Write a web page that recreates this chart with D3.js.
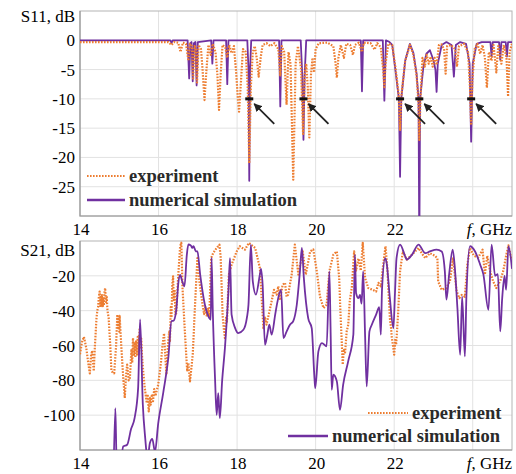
<!DOCTYPE html>
<html>
<head>
<meta charset="utf-8">
<script src="https://cdn.jsdelivr.net/npm/d3@7"></script>
<style>
  body { margin: 0; background: #fff; }
  svg { display: block; }
</style>
</head>
<body>
<div id="chart"></div>
<script>
// frequency axis (GHz)
const xTicks = [14, 16, 18, 20, 22];
const xGrid = [16, 18, 20, 22, 24];
const s11Ticks = [0, -5, -10, -15, -20, -25];
const s21Ticks = [-20, -40, -60, -80, -100];

// S11, dB : [f, dB]
const s11Simulation = [[14,0],[16.3,0],[16.33,-0.5],[16.36,0],[16.74,0],[16.78,-6.5],[16.81,-0.5],[16.84,-0.3],[16.87,-7],[16.9,-0.5],[16.94,-0.3],[16.97,-7.7],[17.0,-0.3],[17.34,0],[17.37,-4],[17.4,0],[17.72,0],[17.75,-7.5],[17.78,0],[18.26,0],[18.29,-5],[18.31,-24],[18.33,-5],[18.36,0],[19.07,0],[19.1,-11.3],[19.13,0],[19.62,0],[19.66,-6],[19.69,-17],[19.72,-6],[19.76,0],[21.15,0],[21.18,-8.7],[21.21,0],[21.71,0],[21.75,-10.3],[21.79,0],[21.88,-0.3],[21.95,-0.8],[22.03,-5],[22.12,-10],[22.15,-23.3],[22.18,-10],[22.28,-3.5],[22.4,-0.6],[22.49,-2.2],[22.57,-5.7],[22.62,-10],[22.64,-36],[22.66,-10],[22.74,-4.7],[22.82,-2.3],[22.91,-1.7],[23.0,-3.4],[23.05,-5],[23.08,-8.8],[23.11,-4],[23.21,-0.8],[23.33,-0.3],[23.46,-0.8],[23.52,-6.2],[23.57,-0.8],[23.68,-0.3],[23.83,-0.6],[23.92,-4],[23.96,-17.3],[24.0,-4],[24.1,-0.6],[24.23,-0.3],[24.45,-0.3],[24.48,-2.8],[24.51,-0.3],[24.67,-0.3],[24.7,-3.3],[24.73,-0.3],[24.84,-0.3],[24.87,-2.8],[24.9,-0.3],[25,-0.3]];

const s11Experiment = [[14,-0.3],[16.25,-0.3],[16.33,-0.8],[16.4,-0.3],[16.5,-0.4],[16.56,-2],[16.62,-0.4],[16.7,-0.6],[16.76,-3.5],[16.8,-0.6],[16.85,-1],[16.88,-6.5],[16.92,-1],[16.95,-1.5],[16.98,-7.2],[17.02,-0.8],[17.08,-1.5],[17.12,-5],[17.17,-10.2],[17.22,-5],[17.27,-0.8],[17.33,-2.5],[17.38,-0.6],[17.45,-2],[17.5,-6],[17.54,-11.9],[17.58,-6],[17.63,-0.8],[17.7,-1.2],[17.75,-3],[17.8,-0.8],[17.86,-2.2],[17.92,-1],[17.97,-5],[18.02,-10],[18.05,-12.2],[18.09,-8],[18.15,-1.5],[18.22,-2],[18.27,-8],[18.31,-21],[18.35,-8],[18.4,-2],[18.45,-1],[18.5,-3],[18.55,-6.2],[18.6,-3],[18.65,-0.8],[18.75,-0.5],[18.85,-1],[18.95,-0.5],[19.05,-1.5],[19.1,-6],[19.14,-1],[19.2,-2],[19.26,-11],[19.31,-2],[19.36,-4],[19.43,-23.8],[19.49,-4],[19.55,-1],[19.63,-5],[19.68,-16],[19.72,-6],[19.76,-4],[19.8,-8],[19.84,-16.6],[19.88,-6],[19.92,-3],[19.96,-5.5],[20.0,-1.5],[20.08,-0.5],[20.3,-0.4],[20.45,-1],[20.5,-3.5],[20.54,-6.4],[20.58,-3],[20.64,-0.8],[20.72,-3],[20.78,-0.6],[20.88,-0.8],[20.95,-2.5],[21.0,-0.8],[21.1,-0.4],[21.18,-2],[21.23,-0.4],[21.4,-0.5],[21.5,-1.6],[21.57,-0.5],[21.66,-1.2],[21.72,-5],[21.75,-8],[21.78,-4],[21.85,-0.6],[21.95,-0.8],[22.03,-4.5],[22.11,-9],[22.15,-15.3],[22.19,-9],[22.28,-3.5],[22.4,-0.8],[22.49,-2.5],[22.57,-6],[22.62,-11],[22.64,-17],[22.67,-10],[22.72,-3],[22.78,-4.5],[22.83,-2.5],[22.88,-4],[22.93,-2.8],[22.98,-4.5],[23.03,-3],[23.08,-4.2],[23.14,-0.8],[23.2,-0.7],[23.27,-1.5],[23.31,-5.7],[23.35,-1],[23.45,-0.8],[23.55,-1.5],[23.6,-4.5],[23.65,-1],[23.78,-0.6],[23.88,-2],[23.93,-8],[23.96,-14.5],[23.99,-7],[24.05,-1.5],[24.12,-0.6],[24.19,-2.3],[24.25,-0.8],[24.31,-3],[24.36,-8.1],[24.41,-2],[24.48,-3.5],[24.53,-0.8],[24.6,-5.5],[24.65,-1],[24.73,-4],[24.79,-0.8],[24.86,-3],[24.9,-9.6],[24.94,-2],[25,-0.6]];

// S21, dB : [f, dB]
const s21Simulation = [[14.85,-140],[14.9,-96],[14.93,-125],[15.0,-135],[15.1,-118],[15.2,-117],[15.3,-108],[15.39,-101.7],[15.48,-84.5],[15.53,-45],[15.6,-94],[15.66,-113],[15.72,-125],[15.78,-116],[15.84,-113.6],[15.91,-121],[15.99,-105],[16.12,-87],[16.25,-66.8],[16.33,-46],[16.38,-45.8],[16.45,-40],[16.5,-25],[16.55,-19.5],[16.6,-23],[16.66,-26],[16.72,-8],[16.76,-2],[16.82,-2.5],[16.86,-4],[16.89,-3],[16.95,-5.9],[16.99,-6],[17.06,-19.3],[17.18,-36.6],[17.27,-43.3],[17.33,-45.2],[17.35,-9.6],[17.38,-39],[17.44,-80],[17.48,-99.8],[17.52,-87.4],[17.56,-101.7],[17.62,-80],[17.69,-61.5],[17.78,-28.9],[17.82,-9.8],[17.86,-42.3],[17.95,-50],[18.03,-52.9],[18.16,-51],[18.25,-44],[18.29,-36.6],[18.35,-2.1],[18.4,-23.2],[18.48,-30.8],[18.58,-19.3],[18.61,-16],[18.65,-25],[18.71,-59.6],[18.77,-53.8],[18.82,-48],[18.88,-53.8],[18.97,-42.3],[19.01,-37],[19.12,-28],[19.18,-55.7],[19.26,-52],[19.35,-48],[19.43,-46],[19.52,-36.6],[19.6,-17.4],[19.65,-4],[19.7,-21.3],[19.81,-44.3],[19.9,-50],[19.97,-78.7],[19.99,-84.5],[20.07,-63.4],[20.16,-58.6],[20.28,-60.5],[20.35,-17.4],[20.38,-50],[20.41,-85.4],[20.45,-76.8],[20.54,-80.6],[20.62,-97],[20.7,-82.6],[20.83,-69],[20.96,-53.8],[21.0,-7.9],[21.03,-30],[21.09,-32.8],[21.13,-31],[21.17,-36],[21.21,-17.4],[21.26,-55],[21.3,-83.5],[21.37,-51.9],[21.43,-48.1],[21.54,-42.3],[21.62,-38],[21.66,-53.8],[21.69,-28],[21.77,-9.8],[21.81,-13],[21.89,-32.8],[21.98,-50],[22.02,-30],[22.06,-9.8],[22.15,-2.1],[22.28,-8.8],[22.32,-10.7],[22.45,-8],[22.62,-2.1],[22.79,-7],[22.91,-6],[23.08,-5],[23.21,-6],[23.29,-17.4],[23.33,-33.7],[23.4,-19],[23.49,-5],[23.55,-17],[23.61,-38.5],[23.68,-65.3],[23.73,-32],[23.8,-66.3],[23.84,-31],[23.93,-3],[24.06,-6],[24.19,-13.6],[24.27,-19],[24.4,-39.5],[24.48,-2.1],[24.57,-20],[24.64,-19],[24.7,-51.9],[24.75,-33],[24.81,-20],[24.85,-28],[24.91,-3],[25,-16]];

const s21Experiment = [[14.0,-65],[14.05,-58],[14.1,-55],[14.16,-61.5],[14.21,-70],[14.25,-76],[14.28,-66],[14.31,-63],[14.35,-74.7],[14.38,-60],[14.42,-44.3],[14.44,-40],[14.46,-38],[14.48,-32],[14.5,-29],[14.52,-38],[14.53,-32],[14.55,-37],[14.56,-31],[14.58,-38],[14.59,-33],[14.61,-37],[14.62,-30],[14.64,-27],[14.66,-35],[14.68,-32],[14.7,-40],[14.73,-44.3],[14.77,-60],[14.8,-74.7],[14.87,-76],[14.92,-60],[14.95,-42.3],[14.97,-50],[14.98,-44],[15.0,-52],[15.01,-43],[15.05,-59.6],[15.1,-78],[15.14,-90.2],[15.17,-78],[15.2,-71],[15.24,-80],[15.27,-78.5],[15.31,-62],[15.33,-70],[15.35,-55.7],[15.37,-66],[15.39,-58],[15.41,-67],[15.43,-57],[15.45,-66],[15.47,-55],[15.49,-65],[15.5,-58],[15.52,-50],[15.54,-62],[15.56,-56],[15.58,-66],[15.61,-75],[15.65,-84.5],[15.7,-93],[15.72,-88],[15.75,-97.9],[15.78,-90],[15.8,-94],[15.83,-88],[15.86,-92],[15.89,-85],[15.92,-89],[15.99,-82.6],[16.06,-70],[16.1,-60],[16.14,-53],[16.17,-65],[16.2,-76.8],[16.24,-60],[16.27,-52],[16.29,-58],[16.31,-38],[16.33,-44],[16.35,-25],[16.37,-20.3],[16.39,-34],[16.41,-28],[16.43,-42],[16.45,-41.4],[16.5,-20],[16.55,-3],[16.58,-1],[16.61,-27],[16.67,-51.9],[16.73,-74.9],[16.76,-70],[16.8,-80.6],[16.84,-72],[16.87,-65.3],[16.93,-36.6],[16.99,-9.8],[17.04,-23.2],[17.12,-36.6],[17.16,-42],[17.19,-38],[17.23,-43.3],[17.26,-39],[17.29,-44],[17.34,-9.8],[17.39,-7],[17.48,-4],[17.55,-2.1],[17.58,-9],[17.63,-42.3],[17.66,-50],[17.69,-55.7],[17.72,-44],[17.74,-47],[17.79,-19.3],[17.86,-13.6],[17.99,-6],[18.07,-3],[18.2,-5],[18.3,-1.1],[18.46,-4],[18.58,-15.5],[18.67,-50],[18.71,-44],[18.75,-48],[18.86,-36.6],[18.94,-28],[19.01,-30.8],[19.05,-26],[19.09,-34],[19.16,-25.1],[19.22,-24],[19.26,-32],[19.3,-30.8],[19.39,-19.3],[19.47,-2.1],[19.56,-19.3],[19.67,-6],[19.75,-19.3],[19.86,-6],[19.94,-4.8],[20.03,-17.4],[20.11,-31.8],[20.2,-38.5],[20.28,-36.6],[20.35,-17.4],[20.45,-7.9],[20.54,-6],[20.6,-21.3],[20.63,-40],[20.66,-55.7],[20.69,-71],[20.72,-62],[20.75,-64],[20.79,-52],[20.83,-48.1],[20.87,-34],[20.92,-27],[20.98,-6],[21.03,-17],[21.09,-10],[21.15,-17],[21.2,-1.1],[21.26,-21.3],[21.34,-27],[21.45,-28],[21.54,-29],[21.6,-24],[21.66,-26],[21.72,-13.6],[21.78,-3],[21.83,-17],[21.89,-44.3],[21.92,-50],[21.94,-55.7],[21.97,-60],[22.0,-65.3],[22.03,-56],[22.05,-59.6],[22.1,-42],[22.15,-17.4],[22.22,-6],[22.32,-10.7],[22.49,-7],[22.62,-4],[22.7,-7],[22.79,-9.8],[22.91,-7],[23.04,-8.5],[23.1,-10],[23.12,-23.2],[23.21,-28],[23.33,-27],[23.42,-23],[23.5,-10],[23.59,-28.9],[23.66,-32.8],[23.72,-31],[23.8,-32],[23.86,-14],[23.93,-4],[24.03,-8.5],[24.14,-9.5],[24.25,-5],[24.31,-19.3],[24.37,-8.5],[24.44,-17],[24.52,-23.2],[24.6,-27],[24.7,-23],[24.78,-17],[24.85,-8.5],[24.91,-2.5],[24.98,-10]];

// resonances marked at -10 dB in S11
const markerFreqs = [18.31, 19.69, 22.15, 22.64, 23.96];

const orange = '#ED7D31', purple = '#7030A0';
const serif = "'Liberation Serif'";

let width = 516, height = 474;

let svg = d3.select('#chart')
    .append('svg')
    .attr('width', width)
    .attr('height', height)
    .style('font-family', serif);

svg.append('defs').append('marker')
    .attr('id', 'arrow')
    .attr('viewBox', '0 0 10 10')
    .attr('refX', 9).attr('refY', 5)
    .attr('markerWidth', 4.5).attr('markerHeight', 4.5)
    .attr('orient', 'auto-start-reverse')
    .append('path')
    .attr('d', 'M0,0 L10,5 L0,10 z')
    .attr('fill', '#222');

const x = d3.scaleLinear().domain([14, 25]).range([80, 512]);

function drawPanel(p) {
    const y = d3.scaleLinear().domain(p.domain).range([p.bottom, p.top]);
    const g = svg.append('g');
    const [x0, x1] = x.range();

    g.append('clipPath').attr('id', 'clip-' + p.id)
        .append('rect')
        .attr('x', x0).attr('y', p.top)
        .attr('width', x1 - x0).attr('height', p.bottom - p.top);

    // grid
    g.selectAll('.vgrid').data(xGrid).join('line')
        .attr('x1', d => x(d)).attr('x2', d => x(d))
        .attr('y1', p.top).attr('y2', p.bottom)
        .attr('stroke', '#e2e2e2').attr('stroke-width', 1);
    g.selectAll('.hgrid').data(p.ticks).join('line')
        .attr('x1', x0).attr('x2', x1)
        .attr('y1', d => y(d)).attr('y2', d => y(d))
        .attr('stroke', '#e2e2e2').attr('stroke-width', 1);

    // frame
    g.append('rect')
        .attr('x', x0).attr('y', p.top)
        .attr('width', x1 - x0).attr('height', p.bottom - p.top)
        .attr('fill', 'none').attr('stroke', '#b4b4b4').attr('stroke-width', 1);
    g.append('path')
        .attr('d', `M${x0},${p.top}V${p.bottom}H${x1}`)
        .attr('fill', 'none').attr('stroke', '#9a9a9a').attr('stroke-width', 1.2);

    const expLine = d3.line().x(d => x(d[0])).y(d => y(d[1]));
    const simLine = d3.line().x(d => x(d[0])).y(d => y(d[1])).curve(p.simCurve);
    const curves = g.append('g').attr('clip-path', `url(#clip-${p.id})`);

    const drawExp = () => curves.append('path')
        .attr('d', expLine(p.exp))
        .attr('fill', 'none').attr('stroke', orange)
        .attr('stroke-width', 2.2).attr('stroke-dasharray', '1.6,1.4')
        .attr('stroke-linejoin', 'round');
    const drawSim = () => curves.append('path')
        .attr('d', simLine(p.sim))
        .attr('fill', 'none').attr('stroke', purple)
        .attr('stroke-width', 1.8).attr('stroke-linejoin', 'round');
    if (p.expOnTop) { drawSim(); drawExp(); } else { drawExp(); drawSim(); }

    // y tick labels
    g.selectAll('.ylab').data(p.ticks).join('text')
        .style('font-family', serif)
        .attr('x', 75).attr('y', d => y(d) + 6)
        .attr('text-anchor', 'end')
        .attr('font-size', 17)
        .text(d => d);
    g.append('text')
        .style('font-family', serif)
        .attr('x', 75).attr('y', p.labelY)
        .attr('text-anchor', 'end').attr('font-size', 17)
        .text(p.label);

    // x tick labels
    g.selectAll('.xlab').data(xTicks).join('text')
        .style('font-family', serif)
        .attr('x', d => x(d) + 1).attr('y', p.bottom + 19)
        .attr('text-anchor', 'middle').attr('font-size', 17)
        .text(d => d);
    const ft = g.append('text')
        .style('font-family', serif)
        .attr('x', 512).attr('y', p.bottom + 19)
        .attr('text-anchor', 'end').attr('font-size', 17);
    ft.append('tspan').attr('font-style', 'italic').text('f');
    ft.append('tspan').text(', GHz');

    // legend
    p.legend.forEach(l => {
        g.append('line')
            .attr('x1', l.x1).attr('x2', l.x2).attr('y1', l.y).attr('y2', l.y)
            .attr('stroke', l.exp ? orange : purple)
            .attr('stroke-width', l.exp ? 2.2 : 2.4)
            .attr('stroke-dasharray', l.exp ? '1.6,1.4' : null);
        g.append('text')
            .style('font-family', serif)
            .attr('x', l.x2 + 4).attr('y', l.y + 6)
            .attr('font-size', 18.5).attr('font-weight', 'bold')
            .attr('fill', '#2a2a2a')
            .text(l.text);
    });
    return y;
}

const yS11 = drawPanel({
    id: 's11', top: 11, bottom: 216, domain: [-30, 5], ticks: s11Ticks,
    label: 'S11, dB', labelY: 22, exp: s11Experiment, sim: s11Simulation,
    expOnTop: true, simCurve: d3.curveLinear,
    legend: [
        {x1: 87, x2: 125, y: 176, exp: true, text: 'experiment'},
        {x1: 87, x2: 125, y: 200, exp: false, text: 'numerical simulation'}
    ]
});

drawPanel({
    id: 's21', top: 241, bottom: 450, domain: [-120, 0], ticks: s21Ticks,
    label: 'S21, dB', labelY: 256, exp: s21Experiment, sim: s21Simulation,
    expOnTop: false, simCurve: d3.curveMonotoneX,
    legend: [
        {x1: 368, x2: 408, y: 413, exp: true, text: 'experiment'},
        {x1: 288, x2: 328, y: 436, exp: false, text: 'numerical simulation'}
    ]
});

// -10 dB markers with arrows
const marks = svg.append('g');
marks.selectAll('rect').data(markerFreqs).join('rect')
    .attr('x', d => x(d) - 4).attr('y', yS11(-10) - 1.5)
    .attr('width', 8).attr('height', 3)
    .attr('fill', '#111');
marks.selectAll('line').data(markerFreqs).join('line')
    .attr('x1', d => x(d) + 25).attr('y1', yS11(-10) + 25)
    .attr('x2', d => x(d) + 5).attr('y2', yS11(-10) + 5)
    .attr('stroke', '#222').attr('stroke-width', 1.8)
    .attr('marker-end', 'url(#arrow)');
</script>
</body>
</html>
